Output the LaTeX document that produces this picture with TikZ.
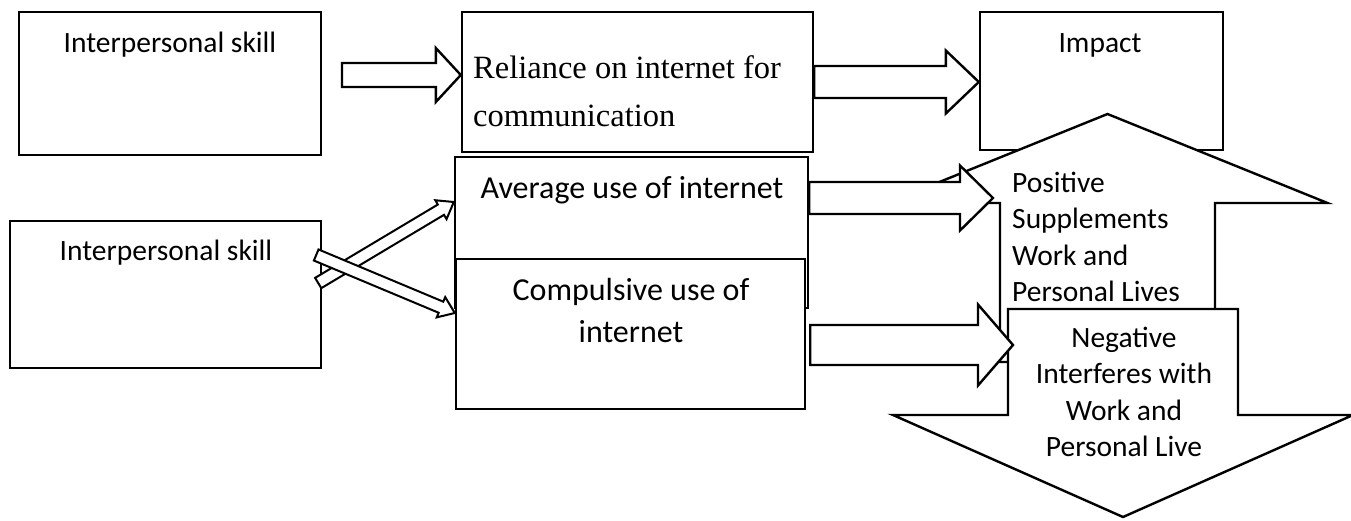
\documentclass[tikz,border=0pt]{standalone}
\usepackage{fontspec}
\setmainfont{Carlito}
\newfontfamily\timesfont{Liberation Serif}
\usetikzlibrary{calc}

% block arrow from tail to tip: shaft half width, head half width, head length
\newcommand{\blockarrow}[6][blockarr]{%
  \coordinate (ba-base) at ($(#3)!#6!(#2)$);
  \path[#1] ($(#2)!#4!90:(#3)$) -- ($(ba-base)!#4!90:(#3)$) -- ($(ba-base)!#5!90:(#3)$) -- (#3)
    -- ($(ba-base)!#5!-90:(#3)$) -- ($(ba-base)!#4!-90:(#3)$) -- ($(#2)!#4!-90:(#3)$) -- cycle;
}

\tikzset{
  box/.style={draw, line width=2.4pt, fill=white, inner sep=0pt},
  blockarr/.style={draw, line width=2.4pt, fill=white},
  thinarr/.style={draw, line width=2pt, fill=white},
  txt/.style={inner sep=0pt, anchor=base, font=\fontsize{29.5}{36.5}\selectfont},
  bigtxt/.style={txt, font=\fontsize{32}{42}\selectfont},
}

\begin{document}
\begin{tikzpicture}[x=1pt, y=-1pt]
  \useasboundingbox (0,0) rectangle (1351,520);

  % top row
  \node[box, minimum width=302pt, minimum height=143pt] (skillA) at (170,83.5) {};
  \node[box, minimum width=351pt, minimum height=140pt] (reliance) at (637.5,82) {};
  \node[box, minimum width=243pt, minimum height=138pt] (impact) at (1101.5,81) {};

  \coordinate (ab-tail) at (342,75);
  \coordinate (ab-tip) at (reliance.west |- ab-tail);
  \blockarrow{ab-tail}{ab-tip}{12pt}{27pt}{25pt}
  \coordinate (bc-tail) at (reliance.east);
  \coordinate (bc-tip) at (impact.west |- bc-tail);
  \blockarrow{bc-tail}{bc-tip}{16pt}{31.5pt}{33pt}

  % up arrow (positive)
  \coordinate (up-tail) at (1107.5,362);
  \coordinate (up-tip) at (1107.5,114);
  \blockarrow{up-tail}{up-tip}{107.5pt}{220pt}{89pt}

  % lower row
  \node[box, minimum width=311pt, minimum height=147pt] (skillB) at (165.5,294.5) {};
  \node[box, minimum width=353pt, minimum height=151pt] (average) at (631.5,232.5) {};
  \node[box, minimum width=349pt, minimum height=150pt] (compulsive) at (630.5,334) {};

  \coordinate (cross1-tail) at ([xshift=-4pt,yshift=11.5pt]skillB.east);
  \coordinate (cross1-tip) at ([yshift=30.5pt]average.west);
  \blockarrow[thinarr]{cross1-tail}{cross1-tip}{6pt}{11pt}{15pt}
  \coordinate (cross2-tail) at ([xshift=-6pt,yshift=39.5pt]skillB.east);
  \coordinate (cross2-tip) at ([yshift=21pt]compulsive.west);
  \blockarrow[thinarr]{cross2-tail}{cross2-tip}{6pt}{11pt}{15pt}

  % down arrow (negative)
  \coordinate (dn-tail) at (1123,309);
  \coordinate (dn-tip) at (1123,517);
  \blockarrow{dn-tail}{dn-tip}{115pt}{230pt}{102pt}

  \coordinate (avg-out) at ([yshift=34.5pt]average.east);
  \coordinate (pos-in) at (993,198);
  \blockarrow{avg-out}{pos-in}{16pt}{32.5pt}{33pt}
  \coordinate (comp-out) at ([xshift=4pt,yshift=-11pt]compulsive.east);
  \coordinate (neg-in) at (1013,345);
  \blockarrow{comp-out}{neg-in}{20pt}{40.5pt}{35pt}

  % texts
  \node[txt] (skillA-txt) at (170,52) {Interpersonal skill};
  \node[txt, anchor=base west, font=\timesfont\fontsize{32.5}{48}\selectfont] (reliance-txt) at (473,78)
    {\begin{tabular}[t]{@{}l@{}}Reliance on internet for\\communication\end{tabular}};
  \node[txt] (impact-txt) at (1100,52) {Impact};
  \node[txt] (skillB-txt) at (166,260) {Interpersonal skill};
  \node[bigtxt] (average-txt) at (632,198) {Average use of internet};
  \node[bigtxt] (compulsive-txt) at (631,300)
    {\begin{tabular}[t]{@{}c@{}}Compulsive use of\\internet\end{tabular}};
  \node[txt, anchor=base west] (positive-txt) at (1012,192)
    {\begin{tabular}[t]{@{}l@{}}Positive\\Supplements\\Work and\\Personal Lives\end{tabular}};
  \node[txt] (negative-txt) at (1124,347)
    {\begin{tabular}[t]{@{}c@{}}Negative\\Interferes with\\Work and\\Personal Live\end{tabular}};
\end{tikzpicture}
\end{document}
